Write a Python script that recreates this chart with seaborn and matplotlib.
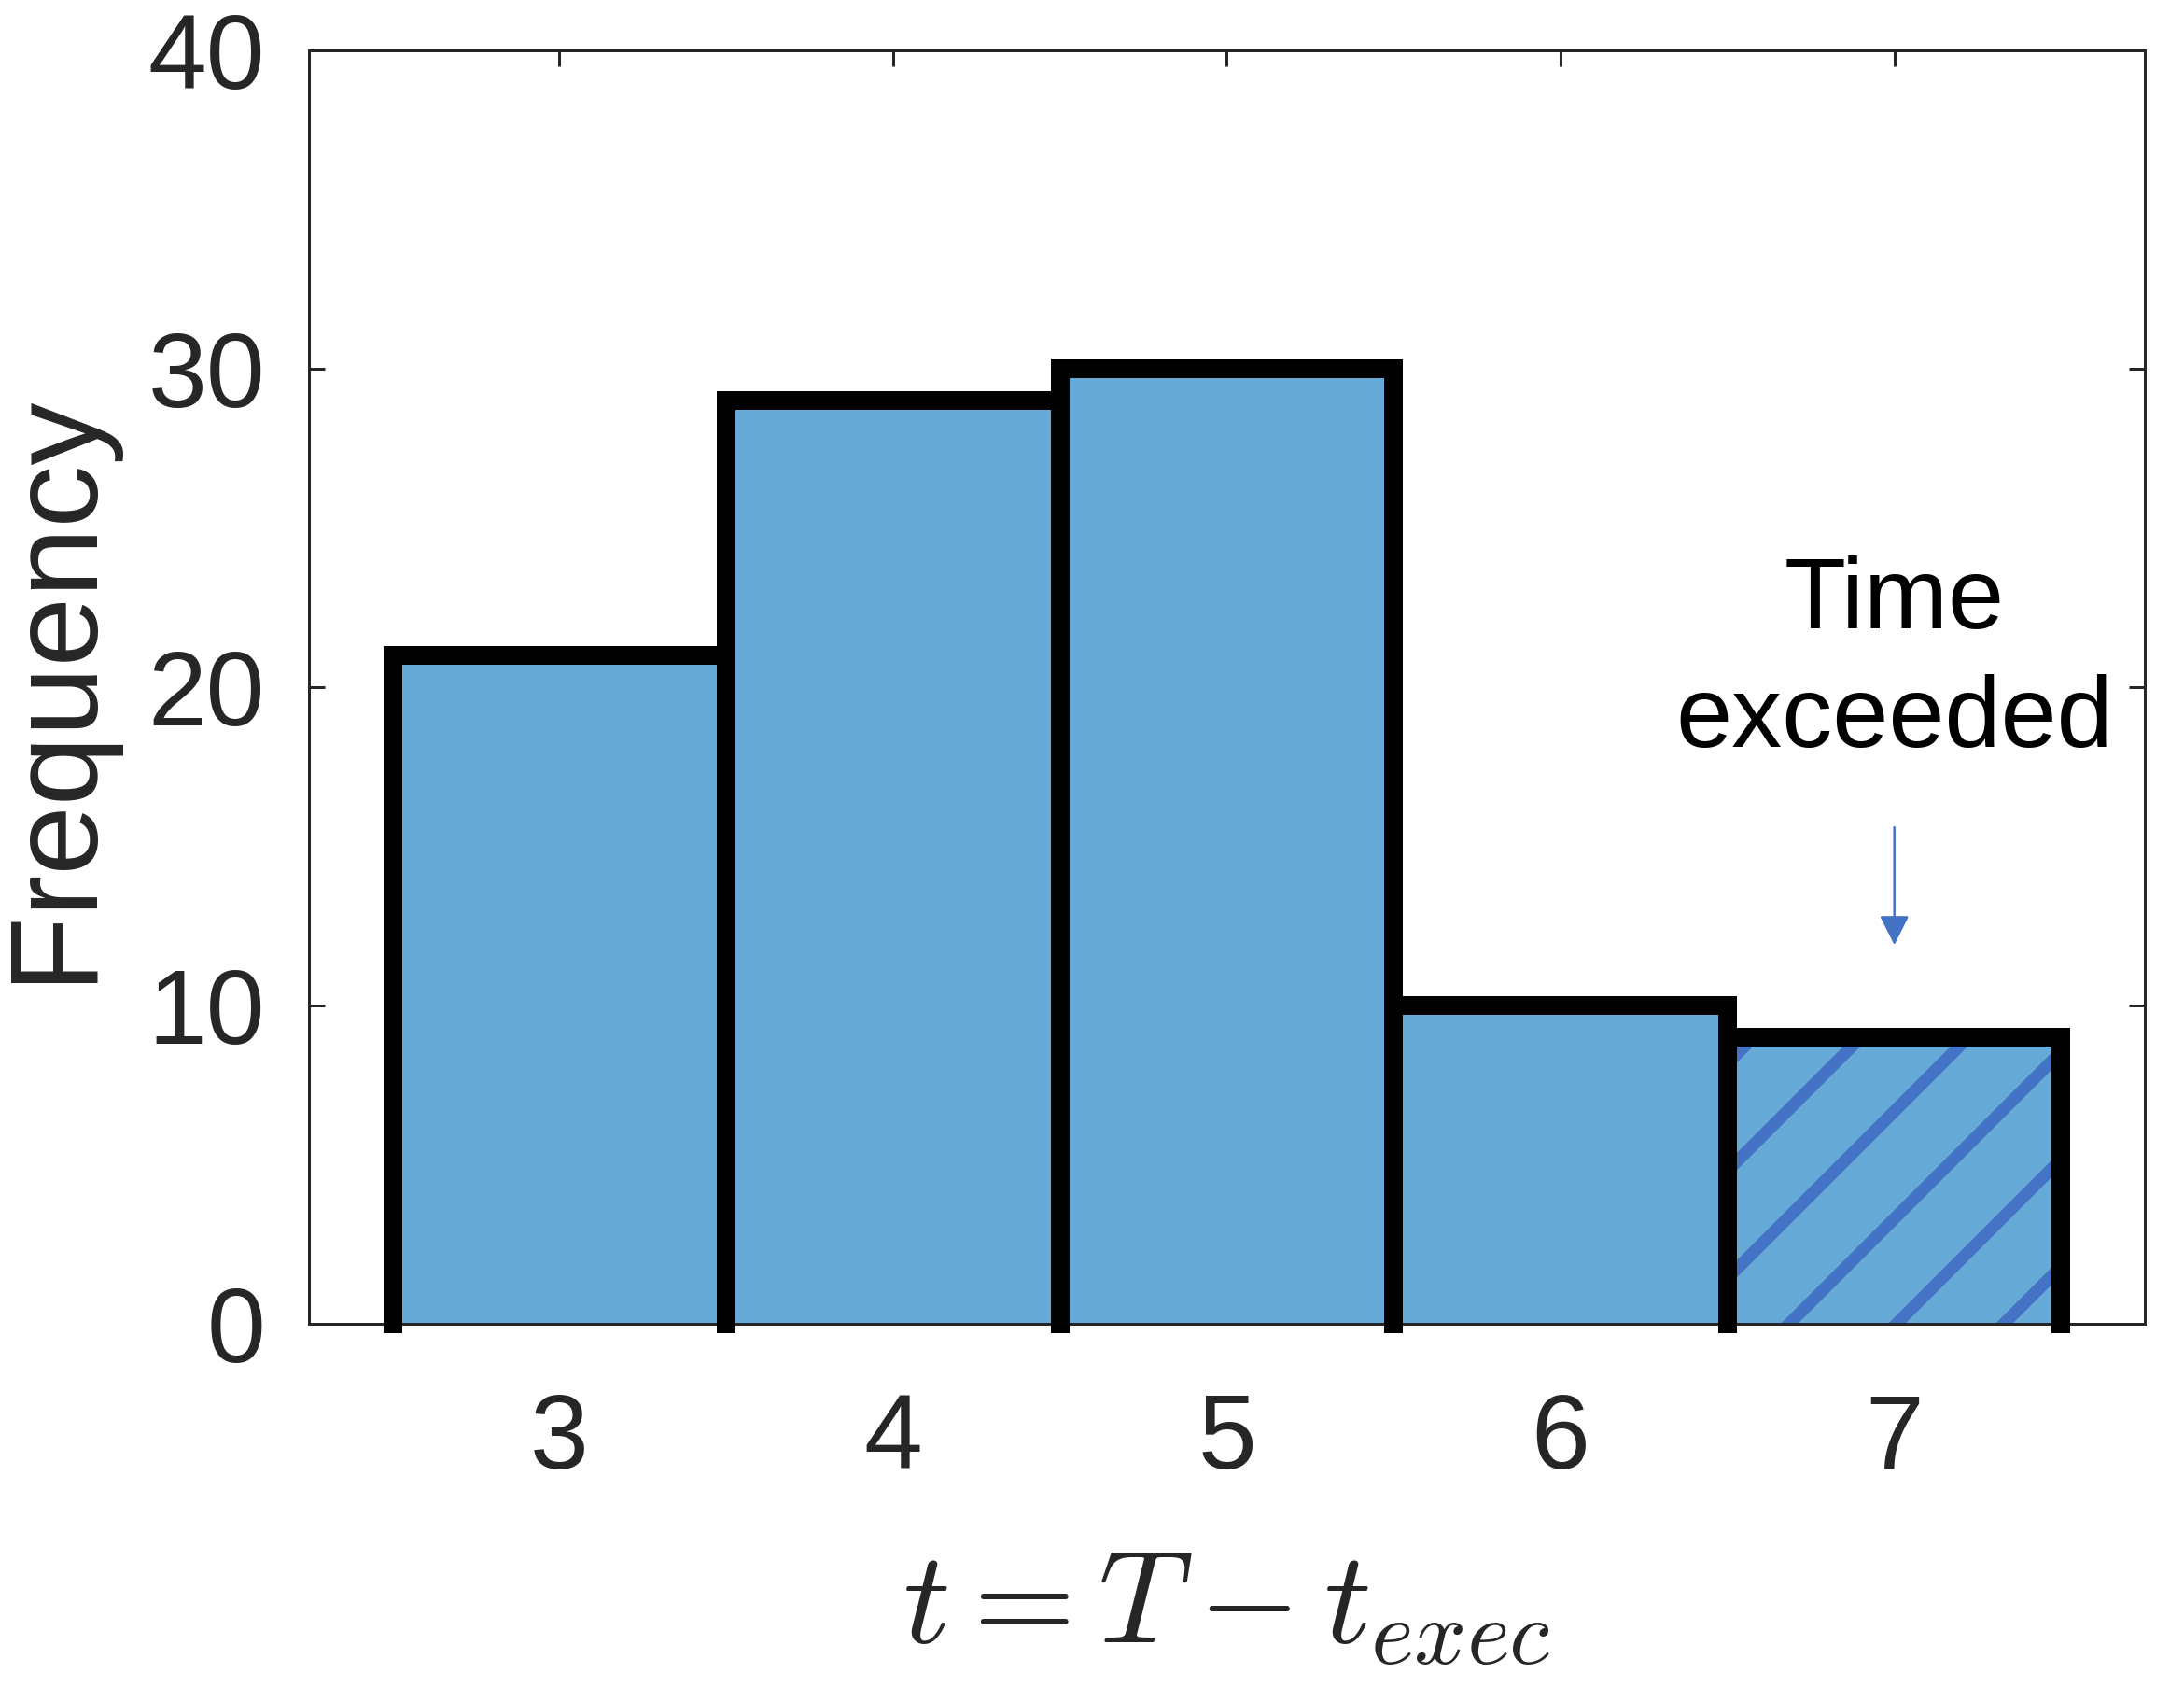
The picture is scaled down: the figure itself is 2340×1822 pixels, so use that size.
import numpy as np
import pandas as pd
import matplotlib
matplotlib.use('Agg')
import matplotlib.pyplot as plt
import seaborn as sns

# data
t_values = [3, 4, 5, 6, 7]
frequency = [21, 29, 30, 10, 9]
exceeded = [False, False, False, False, True]
y_ticks = [0, 10, 20, 30, 40]

DPI = 690  # high dpi so the hatch spacing comes out wide like the original


def px(v):
    # pixel size -> points at this dpi
    return v * 72 / DPI


bar_color = '#66AAD7'
hatch_color = '#4472C4'
text_gray = '#262626'

sns.set_style('ticks')
plt.rcParams['font.family'] = ['Liberation Sans', 'DejaVu Sans']
plt.rcParams['mathtext.fontset'] = 'cm'
plt.rcParams['hatch.linewidth'] = px(13)
plt.rcParams['hatch.color'] = hatch_color

df = pd.DataFrame({'t': t_values, 'freq': frequency})

fig = plt.figure(figsize=(2340 / DPI, 1822 / DPI), dpi=DPI)
ax = fig.add_axes([0.1415, 0.2217, 0.8405, 0.7487])

sns.barplot(data=df, x='t', y='freq', native_scale=True, width=1, color=bar_color,
            saturation=1, errorbar=None, linewidth=0, ax=ax)

# thick black outline per bar (no bottom edge), hatch on the exceeded bar
for p, flag in zip(ax.patches, exceeded):
    x0, w, h = p.get_x(), p.get_width(), p.get_height()
    p.set_linewidth(0)
    if flag:
        p.set_hatch('//')
        p.set_edgecolor(hatch_color)
    else:
        p.set_edgecolor('none')
    ax.plot([x0, x0, x0 + w, x0 + w], [0, h, h, 0], color='black', lw=px(20),
            solid_joinstyle='miter', solid_capstyle='projecting', clip_on=False, zorder=3)

ax.set_xlim(2.25, 7.75)
ax.set_ylim(0, 40)
ax.set_xticks(t_values)
ax.set_yticks(y_ticks)
ax.grid(False)
for s in ax.spines.values():
    s.set_visible(True)
    s.set_linewidth(px(3))
    s.set_color(text_gray)
ax.tick_params(direction='in', length=px(17), width=px(3), top=True, right=True,
               labelsize=px(113), colors=text_gray)
ax.tick_params(axis='y', pad=px(47))
ax.tick_params(axis='x', pad=px(73))

ax.set_ylabel('Frequency', fontsize=px(134), color=text_gray, labelpad=px(36))
ax.set_xlabel(r'$t=T-t_{exec}$', fontsize=px(141), color=text_gray, labelpad=px(60))

ax.text(7, 20.8, 'Time\nexceeded', ha='center', va='center', fontsize=px(108),
        linespacing=1.35, color='black')
ax.annotate('', xy=(7, 11.9), xytext=(7, 15.6),
            arrowprops=dict(arrowstyle='-|>', color=hatch_color, lw=px(2.5),
                            mutation_scale=px(27) / 0.4, shrinkA=0, shrinkB=0))

fig.savefig('out.png', dpi=DPI)
